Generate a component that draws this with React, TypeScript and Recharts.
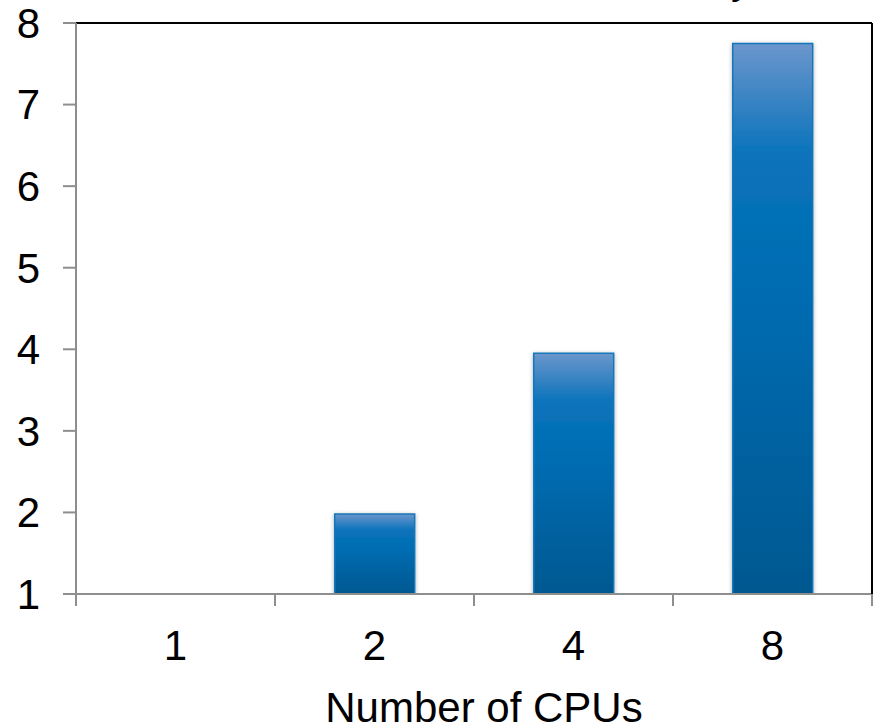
import React from 'react';
import { BarChart, Bar, XAxis, YAxis, CartesianGrid, ReferenceLine } from 'recharts';

// Speedup measured for each CPU count
const cpuCounts = ['1', '2', '4', '8'];
const speedup = [1, 1.98, 3.95, 7.75];
const yTicks = [1, 2, 3, 4, 5, 6, 7, 8];

const data = cpuCounts.map((cpus, i) => ({ cpus, speedup: speedup[i] }));

const W = 874;
const H = 726;
const LEFT = 76;
const RIGHT_EDGE = 872;
const BAND = (RIGHT_EDGE - LEFT) / cpuCounts.length;
const FONT = '"Liberation Sans", Arial, sans-serif';
const GRID = '#8e8e8e';
const X_TICK_MARGIN = 36;
const MARK_LEN = 12;

const XTick = (props: any) => {
  const { x, y, payload, index } = props;
  const axisY = y - X_TICK_MARGIN;
  return (
    <g>
      <line x1={x - BAND / 2} x2={x - BAND / 2} y1={axisY} y2={axisY + MARK_LEN} stroke={GRID} strokeWidth={2} />
      {index === cpuCounts.length - 1 && (
        <line x1={x + BAND / 2} x2={x + BAND / 2} y1={axisY} y2={axisY + MARK_LEN} stroke={GRID} strokeWidth={2} />
      )}
      <text x={x} y={y} dy="0.71em" textAnchor="middle" fontSize={42} fontFamily={FONT} fill="#000">
        {payload.value}
      </text>
    </g>
  );
};

export default function App() {
  return (
    <div style={{ width: W, height: H, background: '#fff', position: 'relative', overflow: 'hidden' }}>
      <style>{'body{margin:0}'}</style>
      <BarChart
        width={W}
        height={H}
        data={data}
        margin={{ top: 23, right: 0, left: 0, bottom: 0 }}
        barCategoryGap="30%"
      >
        <defs>
          <linearGradient id="barFill" x1="0" y1="0" x2="0" y2="1">
            <stop offset="0%" stopColor="#6b96cc" />
            <stop offset="20%" stopColor="#0a73bb" />
            <stop offset="45%" stopColor="#006cb2" />
            <stop offset="100%" stopColor="#005890" />
          </linearGradient>
          <filter id="barShadow" x="-20%" y="-20%" width="140%" height="140%">
            <feDropShadow dx="0" dy="1" stdDeviation="2" floodColor="#000" floodOpacity="0.3" />
          </filter>
        </defs>
        <CartesianGrid vertical={false} stroke={GRID} strokeWidth={2} />
        <XAxis
          dataKey="cpus"
          height={H - 594}
          axisLine={{ stroke: GRID, strokeWidth: 2 }}
          tickLine={false}
          tickSize={0}
          tickMargin={X_TICK_MARGIN}
          tick={<XTick />}
          interval={0}
        />
        <YAxis
          yAxisId="left"
          width={LEFT}
          domain={[1, 8]}
          ticks={yTicks}
          interval={0}
          axisLine={{ stroke: GRID, strokeWidth: 2 }}
          tickLine={{ stroke: GRID, strokeWidth: 2 }}
          tickSize={13}
          tickMargin={23}
          tick={{ fontSize: 42, fontFamily: FONT, fill: '#000' }}
          allowDataOverflow
        />
        <YAxis
          yAxisId="right"
          orientation="right"
          width={2}
          domain={[1, 8]}
          tick={false}
          tickLine={false}
          axisLine={{ stroke: '#000', strokeWidth: 2 }}
        />
        <ReferenceLine yAxisId="left" y={8} stroke="#000" strokeWidth={2} />
        <Bar
          yAxisId="left"
          dataKey="speedup"
          fill="url(#barFill)"
          stroke="#1777b8"
          strokeWidth={1.5}
          filter="url(#barShadow)"
          isAnimationActive={false}
        />
        <text x={484} y={722} textAnchor="middle" fontSize={42} fontFamily={FONT} fill="#000">
          Number of CPUs
        </text>
      </BarChart>
      {/* chart title, sitting mostly above the visible area */}
      <svg width={W} height={H} style={{ position: 'absolute', left: 0, top: 0, pointerEvents: 'none' }}>
        <text x={752} y={-7} textAnchor="end" fontSize={42} fontFamily={FONT} fill="#000">
          Scalability
        </text>
      </svg>
    </div>
  );
}
